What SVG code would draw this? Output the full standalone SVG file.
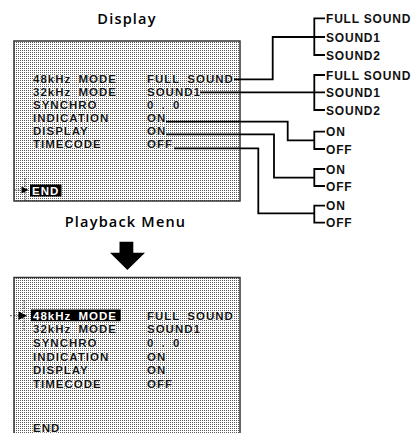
<svg xmlns="http://www.w3.org/2000/svg" width="414" height="433" viewBox="0 0 414 433">
<defs>
<pattern id="dots" x="0" y="0" width="2" height="2" patternUnits="userSpaceOnUse">
<rect width="2" height="2" fill="#ffffff"/>
<rect width="1" height="1" fill="#5a5a5a"/>
</pattern>
<style>
.title{font-family:"Open Sans","DejaVu Sans",sans-serif;font-weight:600;font-size:14.5px;letter-spacing:1.2px;fill:#000;text-anchor:middle}
.m{font-family:"Liberation Sans",Arial,sans-serif;font-weight:bold;font-size:11.5px;letter-spacing:1px;word-spacing:3px;fill:#111;stroke:#fff;stroke-width:1.2px;paint-order:stroke;stroke-linejoin:round}
.w{fill:#fff;stroke:none}
.lbl{font-family:"Liberation Sans",Arial,sans-serif;font-weight:bold;font-size:12px;letter-spacing:0.8px;fill:#111}
.screen{fill:url(#dots);stroke:#333;stroke-width:1.5}
.conn{fill:none;stroke:#000;stroke-width:1.8}
.cur{fill:none;stroke:#333;stroke-width:0.8;stroke-dasharray:2 1.5}
</style>
</defs>

<text class="title" x="127" y="23.5">Display</text>

<g id="display-screen">
<rect class="screen" x="14" y="41" width="226" height="160"/>
<text class="m" x="33" y="82.5">48kHz MODE</text>
<text class="m" x="147" y="82.5">FULL SOUND</text>
<text class="m" x="33" y="95.5">32kHz MODE</text>
<text class="m" x="147" y="95.5">SOUND1</text>
<text class="m" x="33" y="108.5">SYNCHRO</text>
<text class="m" x="147" y="108.5">0 . 0</text>
<text class="m" x="33" y="121.5">INDICATION</text>
<text class="m" x="147" y="121.5">ON</text>
<text class="m" x="33" y="134.5">DISPLAY</text>
<text class="m" x="147" y="134.5">ON</text>
<text class="m" x="33" y="147.5">TIMECODE</text>
<text class="m" x="147" y="147.5">OFF</text>
<rect x="30" y="184.5" width="31.5" height="12" fill="#000"/>
<text class="m w" x="32" y="195">END</text>
<path class="cur" d="M25,178 V202 M14,190 H21"/>
<polygon points="21.5,186.5 28.5,190 21.5,193.5" fill="#000"/>
</g>

<g id="opt-48khz">
<text class="lbl" x="326" y="23">FULL SOUND</text>
<text class="lbl" x="326" y="41.5">SOUND1</text>
<text class="lbl" x="326" y="59.5">SOUND2</text>
</g>
<g id="opt-32khz">
<text class="lbl" x="326" y="79.5">FULL SOUND</text>
<text class="lbl" x="326" y="97">SOUND1</text>
<text class="lbl" x="326" y="114.5">SOUND2</text>
</g>
<g id="opt-indication">
<text class="lbl" x="326" y="136.2">ON</text>
<text class="lbl" x="326" y="153.5">OFF</text>
</g>
<g id="opt-display">
<text class="lbl" x="326" y="173.5">ON</text>
<text class="lbl" x="326" y="190.5">OFF</text>
</g>
<g id="opt-timecode">
<text class="lbl" x="326" y="210.2">ON</text>
<text class="lbl" x="326" y="227.2">OFF</text>
</g>

<g id="connectors">
<path class="conn" d="M234,79.3 H272.7 V37 H314.3"/>
<path class="conn" d="M200,92.3 H325"/>
<path class="conn" d="M166,121.7 H287.7 V140.3 H314.3"/>
<path class="conn" d="M166,134.3 H274 V177.7 H314.3"/>
<path class="conn" d="M174,148.3 H258.3 V213.3 H314.3"/>
<path class="conn" d="M325,18.3 H314.3 V55 H325 M314.3,37 H325"/>
<path class="conn" d="M325,75 H314.3 V110 H325"/>
<path class="conn" d="M325,131.7 H314.3 V149 H325"/>
<path class="conn" d="M325,169 H314.3 V186 H325"/>
<path class="conn" d="M325,205.7 H314.3 V222.7 H325"/>
</g>

<text class="title" x="125.5" y="227">Playback Menu</text>

<g id="down-arrow">
<polygon points="119.5,241.7 133.3,241.7 133.3,252.7 145,252.7 127.4,270 110,252.7 119.5,252.7" fill="#000"/>
</g>

<g id="playback-screen">
<rect class="screen" x="14" y="277.5" width="226" height="170"/>
<rect x="31" y="309.5" width="89.7" height="11.7" fill="#000"/>
<text class="m w" x="33" y="319.8">48kHz MODE</text>
<text class="m" x="147" y="319.8">FULL SOUND</text>
<text class="m" x="33" y="333">32kHz MODE</text>
<text class="m" x="147" y="333">SOUND1</text>
<text class="m" x="33" y="347">SYNCHRO</text>
<text class="m" x="147" y="347">0 . 0</text>
<text class="m" x="33" y="360.5">INDICATION</text>
<text class="m" x="147" y="360.5">ON</text>
<text class="m" x="33" y="374">DISPLAY</text>
<text class="m" x="147" y="374">ON</text>
<text class="m" x="33" y="388">TIMECODE</text>
<text class="m" x="147" y="388">OFF</text>
<text class="m" x="33" y="431.5">END</text>
<path class="cur" d="M24,300 V330 M10,315.7 H19"/>
<polygon points="18.5,311.5 27,315.7 18.5,320" fill="#000"/>
</g>
</svg>
